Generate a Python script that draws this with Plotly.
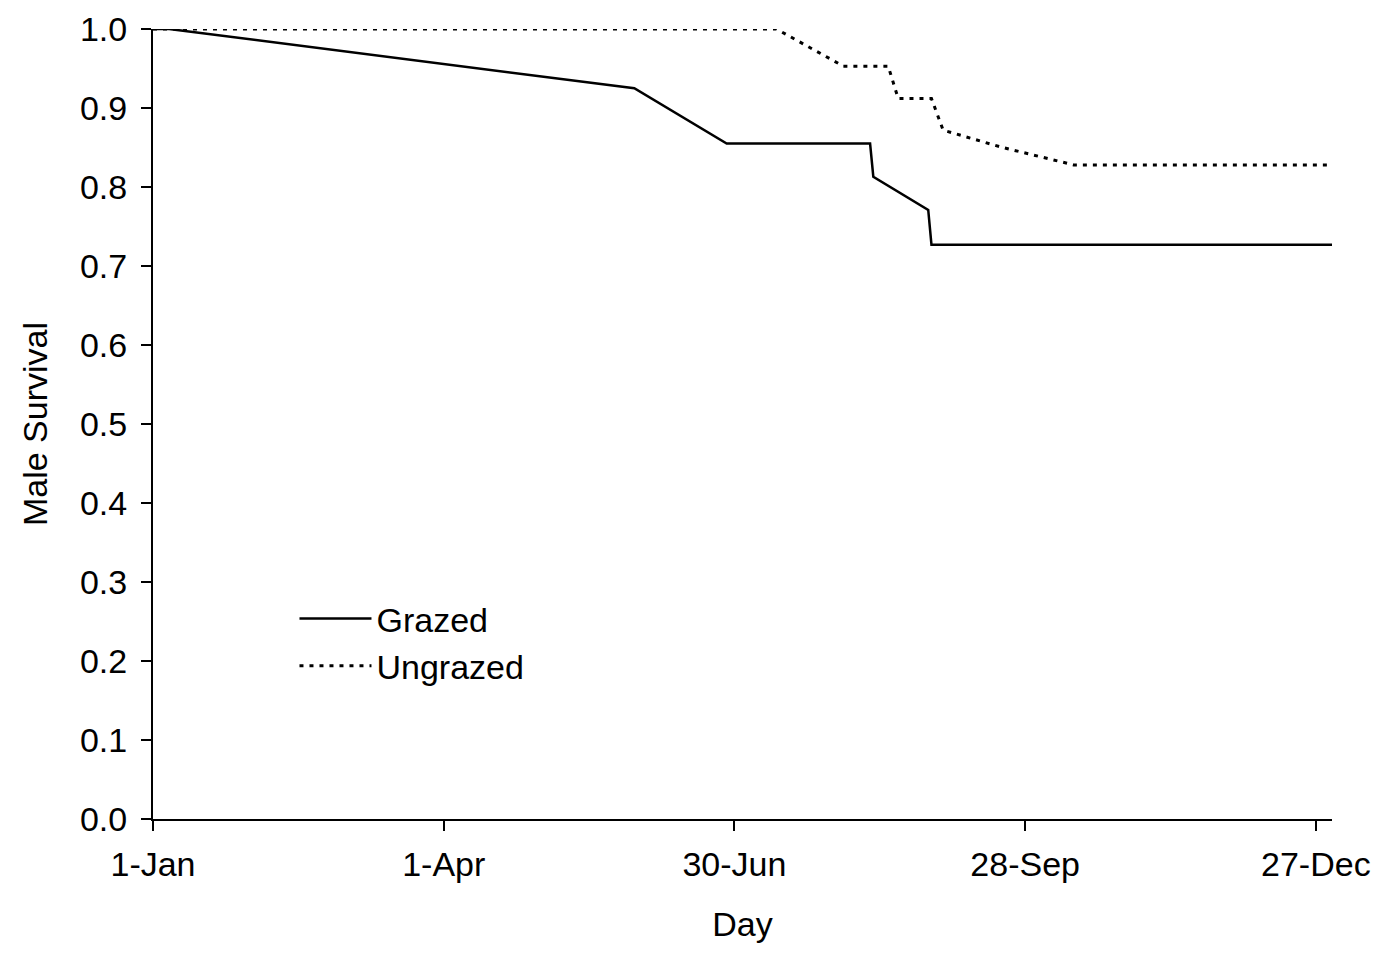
import plotly.graph_objects as go

# Day of year (0 = 1-Jan) and survival values
grazed_day = [0, 5, 149, 177.6, 222, 223, 240, 241, 365]
grazed_surv = [1.0, 1.0, 0.925, 0.855, 0.855, 0.813, 0.771, 0.727, 0.727]

ungrazed_day = [0, 193, 213.7, 227.6, 230.7, 241, 244.6, 263, 285, 365]
ungrazed_surv = [1.0, 1.0, 0.953, 0.953, 0.912, 0.912, 0.872, 0.850, 0.828, 0.828]

tick_days = [0, 90, 180, 270, 360]
tick_labels = ["1-Jan", "1-Apr", "30-Jun", "28-Sep", "27-Dec"]

font_family = "Liberation Sans, Arial, sans-serif"
FS = 34

fig = go.Figure()
fig.add_trace(go.Scatter(x=grazed_day, y=grazed_surv, mode="lines", name="Grazed",
                         line=dict(color="black", width=2.5), cliponaxis=False))
fig.add_trace(go.Scatter(x=ungrazed_day, y=ungrazed_surv, mode="lines", name="Ungrazed",
                         line=dict(color="black", width=3, dash="4px,6px"), cliponaxis=False))

fig.update_layout(
    width=1385, height=953,
    margin=dict(l=153, r=53, t=29, b=134, autoexpand=False),
    paper_bgcolor="white", plot_bgcolor="white",
    font=dict(family=font_family, size=FS, color="black"),
    showlegend=True,
    legend=dict(x=0.12, y=0.29, xanchor="left", yanchor="top",
                bgcolor="rgba(0,0,0,0)", font=dict(size=FS),
                tracegroupgap=0, itemwidth=72),
    xaxis=dict(range=[0, 365], tickvals=tick_days, ticktext=tick_labels,
               tickfont=dict(size=FS), ticklabelstandoff=4, automargin=False,
               showgrid=False, zeroline=False, showline=True, linecolor="black", linewidth=2,
               ticks="outside", ticklen=10, tickwidth=1.5, tickcolor="black",
               title=dict(text="Day", font=dict(size=FS), standoff=30)),
    yaxis=dict(range=[0, 1.0], tickvals=[i / 10 for i in range(11)], tickformat=".1f",
               tickfont=dict(size=FS), ticklabelstandoff=7, automargin=False,
               showgrid=False, zeroline=False, showline=True, linecolor="black", linewidth=2,
               ticks="outside", ticklen=10, tickwidth=1.5, tickcolor="black",
               title=dict(text="Male Survival", font=dict(size=FS), standoff=22)),
)

fig.write_html("out.html")
